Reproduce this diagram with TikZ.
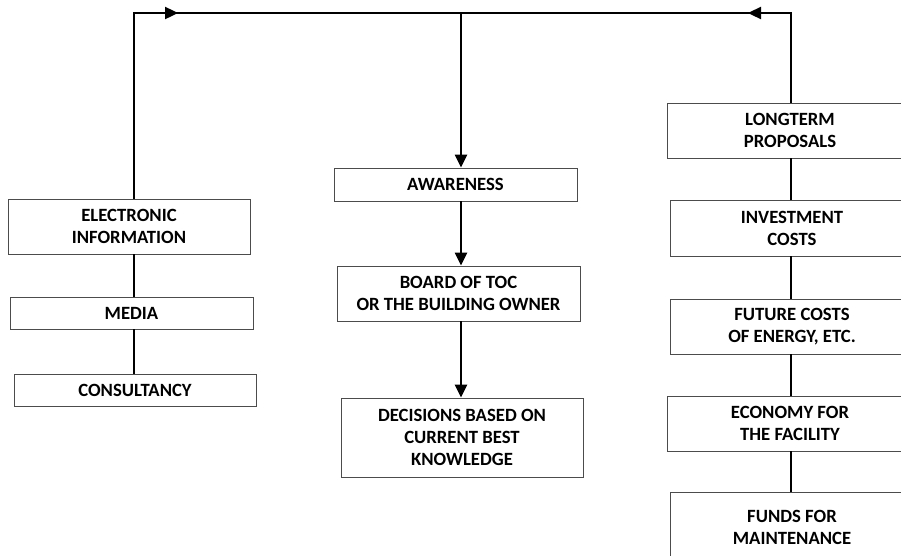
\documentclass[tikz,border=0pt]{standalone}
\usepackage{fontspec}
\setmainfont{Carlito}
\usetikzlibrary{arrows.meta}
\begin{document}
\begin{tikzpicture}[x=1pt,y=-1pt,
  box/.style={draw=black!70, line width=0.9pt, fill=white, inner sep=0pt,
    align=center, font=\bfseries\fontsize{18.7}{22}\selectfont},
  conn/.style={line width=2.4pt, line cap=butt},
  arr/.style={conn, -{Triangle[length=13pt,width=12pt]}}]
\useasboundingbox (0,0) rectangle (901,555);
\clip (0,0) rectangle (901,555);

% left column
\node[box, minimum width=242pt, minimum height=55pt] (elec) at (129,226.5) {ELECTRONIC\\INFORMATION};
\node[box, minimum width=243pt, minimum height=32pt] (media) at (131.5,313) {MEDIA};
\node[box, minimum width=242pt, minimum height=32pt] (cons) at (135,390) {CONSULTANCY};

% middle column
\node[box, minimum width=243pt, minimum height=33pt] (aware) at (455.5,184.5) {AWARENESS};
\node[box, minimum width=243pt, minimum height=55pt] (board) at (458.5,293.5) {BOARD OF TOC\\OR THE BUILDING OWNER};
\node[box, minimum width=242pt, minimum height=79pt] (dec) at (462,437.5) {DECISIONS BASED ON\\CURRENT BEST\\KNOWLEDGE};

% right column
\node[box, minimum width=246pt, minimum height=55pt] (lt) at (790,130.5) {LONGTERM\\PROPOSALS};
\node[box, minimum width=244pt, minimum height=56pt] (inv) at (792,228) {INVESTMENT\\COSTS};
\node[box, minimum width=244pt, minimum height=55pt] (fut) at (792,326.5) {FUTURE COSTS\\OF ENERGY, ETC.};
\node[box, minimum width=246pt, minimum height=55pt] (eco) at (790,423.5) {ECONOMY FOR\\THE FACILITY};
\node[box, minimum width=244pt, minimum height=70pt] (funds) at (792,527) {FUNDS FOR\\MAINTENANCE};

% top feedback line
\coordinate (TL) at (134,13);
\coordinate (TM) at (461,13);
\coordinate (TR) at (791,13);
\coordinate (AL) at (178,13);
\coordinate (AR) at (748,13);

\draw[conn] (TL |- elec.north) -- (TL) -- (AL);
\draw[arr] (TL) -- (AL);
\draw[conn] (AL) -- (AR);
\draw[conn] (TR |- lt.north) -- (TR) -- (AR);
\draw[arr] (TR) -- (AR);

% left chain
\draw[conn] (TL |- elec.south) -- (TL |- media.north);
\draw[conn] (TL |- media.south) -- (TL |- cons.north);

% middle chain
\draw[arr] (TM) -- (TM |- aware.north);
\draw[arr] (TM |- aware.south) -- (TM |- board.north);
\draw[arr] (TM |- board.south) -- (TM |- dec.north);

% right chain
\draw[conn] (TR |- lt.south) -- (TR |- inv.north);
\draw[conn] (TR |- inv.south) -- (TR |- fut.north);
\draw[conn] (TR |- fut.south) -- (TR |- eco.north);
\draw[conn] (TR |- eco.south) -- (TR |- funds.north);
\end{tikzpicture}
\end{document}
